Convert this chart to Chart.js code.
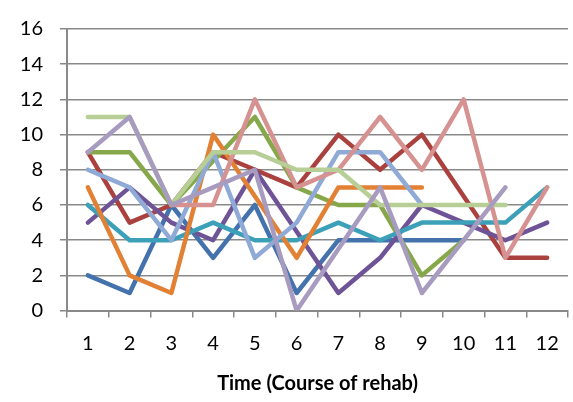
<!DOCTYPE html>
<html>
<head>
<meta charset="utf-8">
<script src="https://cdn.jsdelivr.net/npm/chart.js@4"></script>
<style>
  html, body { margin: 0; padding: 0; background: #fff; }
  #box { width: 573px; height: 402px; position: relative; }
</style>
</head>
<body>
<div id="box"><canvas id="grafico"></canvas></div>
<script>
// ── Dados ──
const categorias = ["1", "2", "3", "4", "5", "6", "7", "8", "9", "10", "11", "12"];

const serie1  = [2, 1, 6, 3, 6, 1, 4, 4, 4, 4, null, null];
const serie2  = [9, 5, 6, 9, 8, 7, 10, 8, 10, 6.5, 3, 3];
const serie3  = [9, 9, 6, 8.5, 11, 7, 6, 6, 2, 4, null, null];
const serie4  = [5, 7, 5, 4, 8, 4.5, 1, 3, 6, 5, 4, 5];
const serie5  = [6, 4, 4, 5, 4, 4, 5, 4, 5, 5, 5, 7];
const serie6  = [7, 2, 1, 10, 6.5, 3, 7, 7, 7, null, null, null];
const serie7  = [8, 7, 4, 9, 3, 5, 9, 9, 6, null, null, null];
const serie8  = [null, null, 6, 6, 12, 7, 8, 11, 8, 12, 3, 7];
const serie9  = [11, 11, 6, 9, 9, 8, 8, 6, 6, 6, 6, null];
const serie10 = [9, 11, 6, 7, 8, 0, 3.5, 7, 1, 4, 7, null];

const series = [serie1, serie2, serie3, serie4, serie5, serie6, serie7, serie8, serie9, serie10];

// ── Cores (estilo Excel) ──
const CORES = [
  "#4472AC", "#AA413E", "#87A84A", "#6E5396", "#3DA0B9",
  "#E28034", "#8FAAD6", "#D69291", "#B7CE96", "#A89BC0"
];

const CINZA = "#898989";
const FONTE = "Lato, 'Open Sans', sans-serif";

// Excel desenha a última série por cima -> order decrescente
const datasets = series.map((dados, i) => ({
  label: "Série " + (i + 1),
  data: dados,
  borderColor: CORES[i],
  backgroundColor: CORES[i],
  borderWidth: 4.5,
  borderCapStyle: "round",
  borderJoinStyle: "round",
  pointRadius: 0,
  tension: 0,
  spanGaps: false,
  order: series.length - i,
}));

new Chart(document.getElementById("grafico"), {
  type: "line",
  data: { labels: categorias, datasets: datasets },
  options: {
    responsive: true,
    maintainAspectRatio: false,
    animation: false,
    layout: { padding: { top: 17, right: 5, left: 0, bottom: 0 } },
    plugins: {
      legend: { display: false },
      tooltip: { enabled: false },
    },
    scales: {
      x: {
        offset: true,
        grid: {
          offset: true,
          drawOnChartArea: false,
          drawTicks: true,
          tickLength: 7,
          color: CINZA,
          lineWidth: 1.5,
        },
        border: { color: CINZA, width: 2 },
        ticks: {
          color: "#000",
          padding: 14,
          maxRotation: 0,
          font: { family: FONTE, size: 20 },
        },
        title: {
          display: true,
          text: "Time (Course of rehab)",
          color: "#000",
          font: { family: FONTE, size: 20, weight: "bold" },
          padding: { top: 6, bottom: 6 },
        },
        afterFit: escala => { escala.height = 91.4; },
      },
      y: {
        min: 0,
        max: 16,
        ticks: {
          stepSize: 2,
          color: "#000",
          padding: 17,
          font: { family: FONTE, size: 20 },
        },
        grid: {
          color: CINZA,
          lineWidth: 1.5,
          drawTicks: true,
          tickLength: 7,
        },
        border: { color: CINZA, width: 2 },
        afterFit: escala => { escala.width = 67; },
      },
    },
  },
});
</script>
</body>
</html>
